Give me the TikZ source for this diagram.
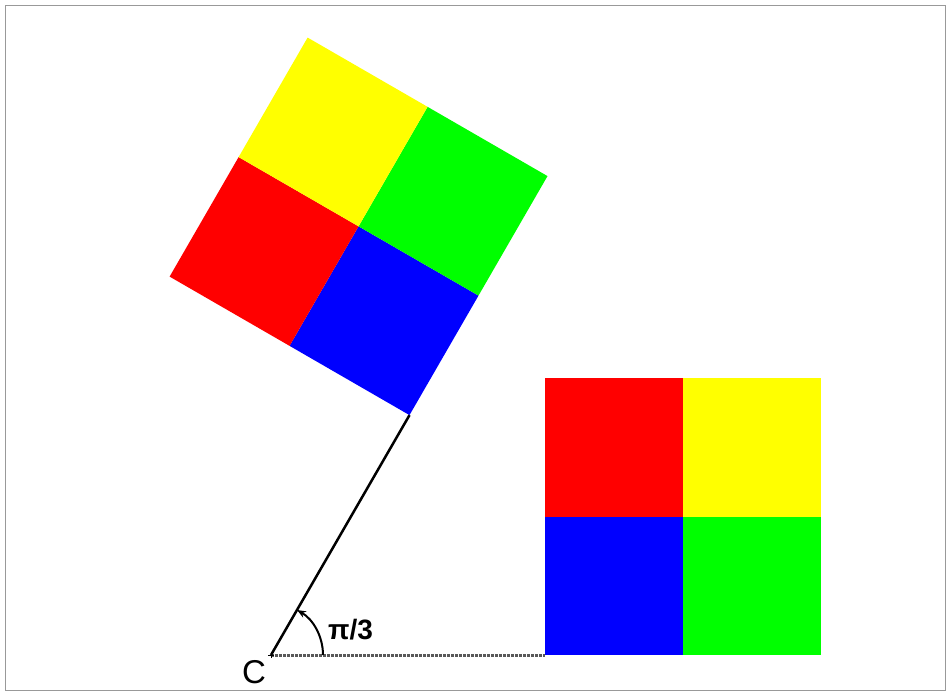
\documentclass[tikz,border=0pt]{standalone}
\usepackage{fontspec}
\setmainfont{Liberation Sans}
\usetikzlibrary{arrows.meta}
\definecolor{pureyellow}{RGB}{255,255,0}
\definecolor{puregreen}{RGB}{0,255,0}
\definecolor{purered}{RGB}{255,0,0}
\definecolor{pureblue}{RGB}{0,0,255}
\begin{document}
\begin{tikzpicture}[x=1pt,y=-1pt,
  dotline/.style={line width=3pt, black!65, dash pattern=on 3pt off 1pt},
  solidline/.style={line width=2.5pt, black},
  anglearc/.style={line width=2pt, -{Stealth[length=9pt,width=7pt]}}]
\useasboundingbox (0,0) rectangle (950,693);
\fill[white] (0,0) rectangle (950,693);
\draw[line width=1.5pt, gray!80] (5.5,5.5) rectangle (945.5,690.5);
\coordinate (C) at (271,655);
% right square
\coordinate (A) at (545,655);
\fill[pureblue] (545,516.5) rectangle (683,655);
\fill[puregreen] (683,516.5) rectangle (821,655);
\fill[purered] (545,378) rectangle (683,516.5);
\fill[pureyellow] (683,378) rectangle (821,516.5);
% rotated square
\begin{scope}[shift={(C)}, rotate=60]
  \fill[pureblue] (277,0) rectangle (415,-138.5);
  \fill[puregreen] (415,0) rectangle (553,-138.5);
  \fill[purered] (277,-138.5) rectangle (415,-277);
  \fill[pureyellow] (415,-138.5) rectangle (553,-277);
  \coordinate (B) at (277,0);
\end{scope}
\draw[dotline] (C) -- (A);
\draw[solidline] (C) -- (B);
\draw[anglearc] ([xshift=52pt]C) arc[start angle=0, end angle=-60, radius=52];
\draw[line width=1pt] ([xshift=-3pt]C) -- ([xshift=3pt]C) ([yshift=-3pt]C) -- ([yshift=3pt]C);
\node[font=\bfseries\fontsize{28}{28}\selectfont, anchor=base west, inner sep=0pt] (L) at (328,639) {π/3};
\node[font=\fontsize{33}{33}\selectfont, anchor=base west, inner sep=0pt] (Clab) at (242,683) {C};
\end{tikzpicture}
\end{document}
